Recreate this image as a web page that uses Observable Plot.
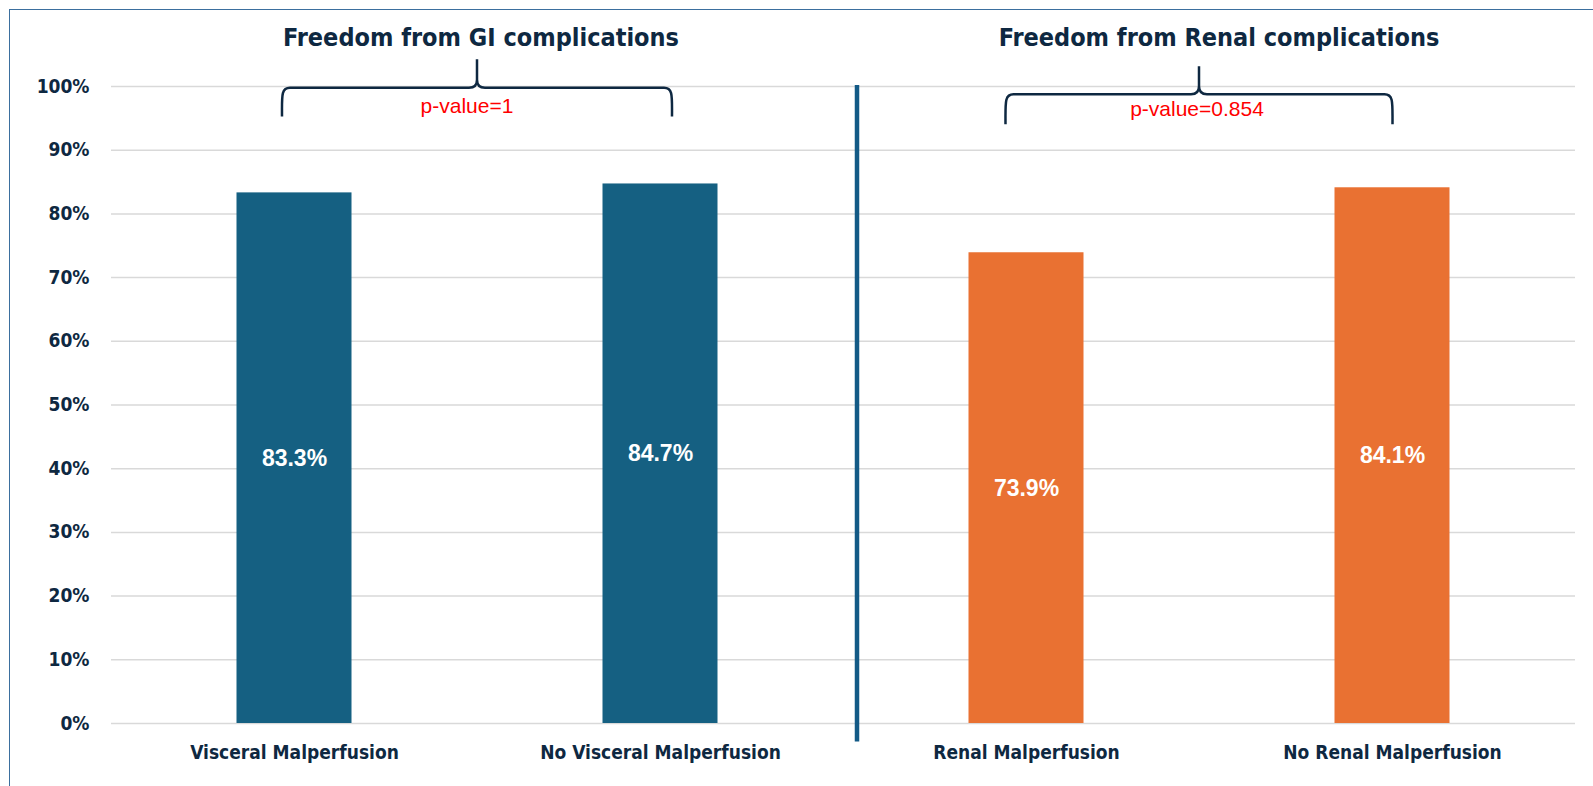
<!DOCTYPE html>
<html><head><meta charset="utf-8">
<script src="https://cdn.jsdelivr.net/npm/d3@7"></script>
<script src="https://cdn.jsdelivr.net/npm/@observablehq/plot@0.6"></script>
<style>
html,body{margin:0;padding:0;background:#fff;overflow:hidden;}
#wrap{position:relative;width:1593px;height:786px;overflow:hidden;}
#border{position:absolute;left:8.5px;top:8.5px;width:1700px;height:900px;border:1.5px solid #3b6f9e;box-sizing:border-box;pointer-events:none;}
</style></head><body><div id="wrap"><div id="chart"></div><div id="border"></div></div>
<script>
// ---- data ----
const categories = ["Visceral Malperfusion", "No Visceral Malperfusion", "Renal Malperfusion", "No Renal Malperfusion"];
const values = [0.833, 0.847, 0.739, 0.841];
const groups = ["GI", "GI", "Renal", "Renal"];
const groupNames = ["GI", "Renal"];
const groupTitles = ["Freedom from GI complications", "Freedom from Renal complications"];
const pValues = ["p-value=1", "p-value=0.854"];
const yTicks = [0, 0.1, 0.2, 0.3, 0.4, 0.5, 0.6, 0.7, 0.8, 0.9, 1.0];

// ---- styles ----
const COND = "'DejaVu Sans Condensed', 'DejaVu Sans', sans-serif";
const DARK = "#0e2841";
const colors = ["#156082", "#E97132"];
// per-group annotation styling (in y data units / px offsets)
const braceStyle = [
  {dx: 0, half: 195, yH: 0.9973, yT: 1.042, yE: 0.952, pY: 0.9685, pDx: -10, tDx: 4},
  {dx: -10, half: 193.5, yH: 0.987, yT: 1.031, yE: 0.940, pY: 0.9637, pDx: -12, tDx: 10}
];
const titleY = 1.077;

const data = categories.map((c, i) => ({category: c, value: values[i], group: groups[i]}));

const plot = Plot.plot({
  width: 1593,
  height: 786,
  marginLeft: 111,
  marginRight: 18,
  marginTop: 86,
  marginBottom: 63,
  style: {fontFamily: COND, background: "white", overflow: "visible"},
  x: {domain: categories, padding: 0, label: null},
  y: {domain: [0, 1], label: null},
  color: {domain: groupNames, range: colors},
  marks: [
    Plot.gridY(yTicks, {stroke: "#d9d9d9", strokeOpacity: 1, strokeWidth: 1.5}),
    Plot.axisY(yTicks, {tickSize: 0, tickPadding: 22, tickFormat: d3.format(".0%"), fontSize: 19, fontWeight: "bold", fill: DARK, label: null}),
    Plot.axisX({tickSize: 0, tickPadding: 22, fontSize: 19, fontWeight: "bold", fill: DARK, label: null}),
    Plot.barY(data, {x: "category", y: "value", fill: "group", insetLeft: 125.5, insetRight: 125.5}),
    Plot.text(data, {x: "category", y: d => d.value / 2, text: d => d3.format(".1%")(d.value), fill: "white", fontSize: 23, fontWeight: "bold", fontFamily: "'Liberation Sans', Arial, sans-serif"})
  ]
});
document.getElementById("chart").appendChild(plot);

// ---- annotations positioned through Plot's scales ----
const sx = plot.scale("x"), sy = plot.scale("y");
const bw = sx.bandwidth;
const cx = c => sx.apply(c) + bw / 2;
const Y = v => sy.apply(v);
const svg = d3.select(plot);
const g = svg.append("g");

groupNames.forEach((gn, gi) => {
  const cats = categories.filter((c, i) => groups[i] === gn);
  const mid = (cx(cats[0]) + cx(cats[cats.length - 1])) / 2;
  const s = braceStyle[gi];
  const xm = mid + s.dx, x0 = xm - s.half, x1 = xm + s.half;
  const yH = Y(s.yH), yT = Y(s.yT), yE = Y(s.yE);
  const r = 8;
  const path = `M${x0},${yE} C${x0},${yH + r} ${x0 - 1},${yH} ${x0 + r},${yH} L${xm - r},${yH} Q${xm},${yH} ${xm},${yH - r} L${xm},${yT} ` +
               `M${xm},${yH - r} Q${xm},${yH} ${xm + r},${yH} L${x1 - r},${yH} C${x1 + 1},${yH} ${x1},${yH + r} ${x1},${yE}`;
  g.append("path").attr("d", path).attr("fill", "none").attr("stroke", DARK).attr("stroke-width", 2.5);
  g.append("text").attr("x", mid + s.pDx).attr("y", Y(s.pY)).attr("dy", "0.35em")
    .attr("text-anchor", "middle").attr("fill", "#ff0000").attr("font-size", 21)
    .attr("font-family", "'Liberation Sans', Arial, sans-serif").text(pValues[gi]);
  g.append("text").attr("x", mid + s.tDx).attr("y", Y(titleY)).attr("dy", "0.35em")
    .attr("text-anchor", "middle").attr("fill", DARK).attr("font-size", 25).attr("font-weight", "bold")
    .attr("font-family", COND).text(groupTitles[gi]);
});

// divider between the two groups
const xDiv = sx.apply(categories[2]) + 14;
g.append("line").attr("x1", xDiv).attr("x2", xDiv).attr("y1", Y(1) - 1).attr("y2", Y(-0.029))
  .attr("stroke", "#135a86").attr("stroke-width", 4.5);
</script></body></html>
